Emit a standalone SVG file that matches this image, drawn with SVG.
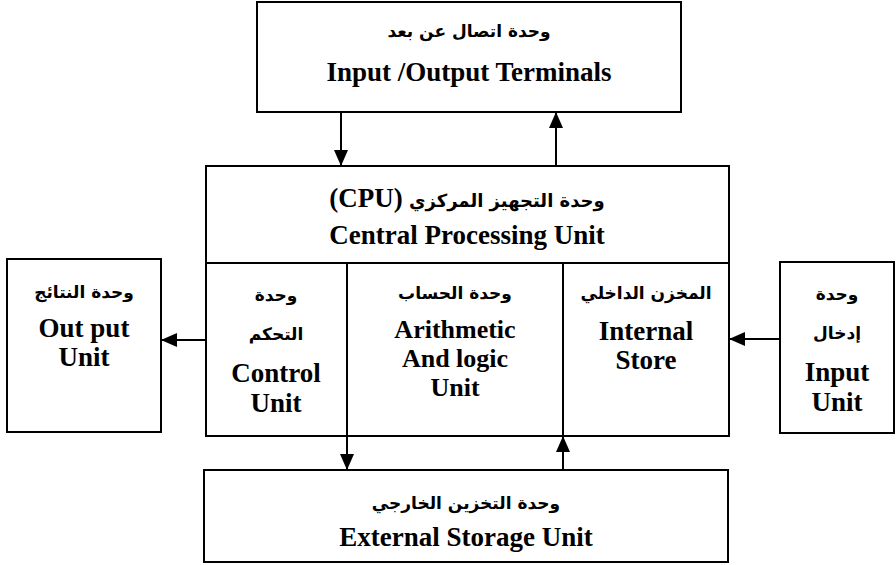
<svg xmlns="http://www.w3.org/2000/svg" width="896" height="565" viewBox="0 0 896 565">
<style>
  .box { fill: #ffffff; stroke: #000000; stroke-width: 2; }
  .ln { stroke: #000000; stroke-width: 2; fill: none; }
  .en { font-family: "Liberation Serif", "Times New Roman", serif; font-weight: bold; font-size: 27px; fill: #000; text-anchor: middle; }
  .ar { font-family: "DejaVu Sans", sans-serif; font-weight: bold; font-size: 17px; fill: #000; text-anchor: middle; }
  .conn { stroke: #000000; stroke-width: 2; fill: none; }
</style>
<defs>
  <marker id="arrow" markerUnits="userSpaceOnUse" markerWidth="16" markerHeight="14" refX="16" refY="7" orient="auto">
    <path d="M0,0 L16,7 L0,14 Z" fill="#000000"/>
  </marker>
</defs>
<rect width="896" height="565" fill="#ffffff"/>

<g id="io-terminals">
  <rect class="box" x="257" y="2" width="424" height="110"/>
  <text class="ar" x="469" y="37">وحدة اتصال عن بعد</text>
  <text class="en" x="469" y="81">Input /Output Terminals</text>
</g>

<g id="cpu">
  <rect class="box" x="206" y="166" width="523" height="270"/>
  <line class="ln" x1="206" y1="263" x2="729" y2="263"/>
  <text class="en" x="467" y="207" direction="rtl" unicode-bidi="embed"><tspan class="ar" style="font-size:18px">وحدة التجهيز المركزي </tspan>(CPU)</text>
  <text class="en" x="467" y="244">Central Processing Unit</text>
</g>

<g id="control-unit">
  <line class="ln" x1="347" y1="263" x2="347" y2="436"/>
  <text class="ar" x="276" y="301">وحدة</text>
  <text class="ar" x="276" y="340">التحكم</text>
  <text class="en" x="276" y="382">Control</text>
  <text class="en" x="276" y="412">Unit</text>
</g>

<g id="alu">
  <line class="ln" x1="563" y1="263" x2="563" y2="436"/>
  <text class="ar" x="455" y="299">وحدة الحساب</text>
  <text class="en" x="455" y="338" style="font-size:26px">Arithmetic</text>
  <text class="en" x="455" y="367" style="font-size:26px">And logic</text>
  <text class="en" x="455" y="396" style="font-size:26px">Unit</text>
</g>

<g id="internal-store">
  <text class="ar" x="646" y="299">المخزن الداخلي</text>
  <text class="en" x="646" y="340">Internal</text>
  <text class="en" x="646" y="369">Store</text>
</g>

<g id="output-unit">
  <rect class="box" x="7" y="259" width="154" height="173"/>
  <text class="ar" x="84" y="298">وحدة النتائج</text>
  <text class="en" x="84" y="337">Out put</text>
  <text class="en" x="84" y="366">Unit</text>
</g>

<g id="input-unit">
  <rect class="box" x="780" y="262" width="114" height="171"/>
  <text class="ar" x="837" y="300">وحدة</text>
  <text class="ar" x="837" y="339">إدخال</text>
  <text class="en" x="837" y="381">Input</text>
  <text class="en" x="837" y="411">Unit</text>
</g>

<g id="external-storage">
  <rect class="box" x="204" y="470" width="524" height="92"/>
  <text class="ar" x="466" y="509">وحدة التخزين الخارجي</text>
  <text class="en" x="466" y="546">External Storage Unit</text>
</g>

<g id="connectors">
  <line class="conn" x1="341" y1="112" x2="341" y2="166" marker-end="url(#arrow)"/>
  <line class="conn" x1="556" y1="166" x2="556" y2="112" marker-end="url(#arrow)"/>
  <line class="conn" x1="206" y1="340" x2="161" y2="340" marker-end="url(#arrow)"/>
  <line class="conn" x1="780" y1="339" x2="729" y2="339" marker-end="url(#arrow)"/>
  <line class="conn" x1="347" y1="436" x2="347" y2="470" marker-end="url(#arrow)"/>
  <line class="conn" x1="563" y1="470" x2="563" y2="436" marker-end="url(#arrow)"/>
</g>
</svg>
